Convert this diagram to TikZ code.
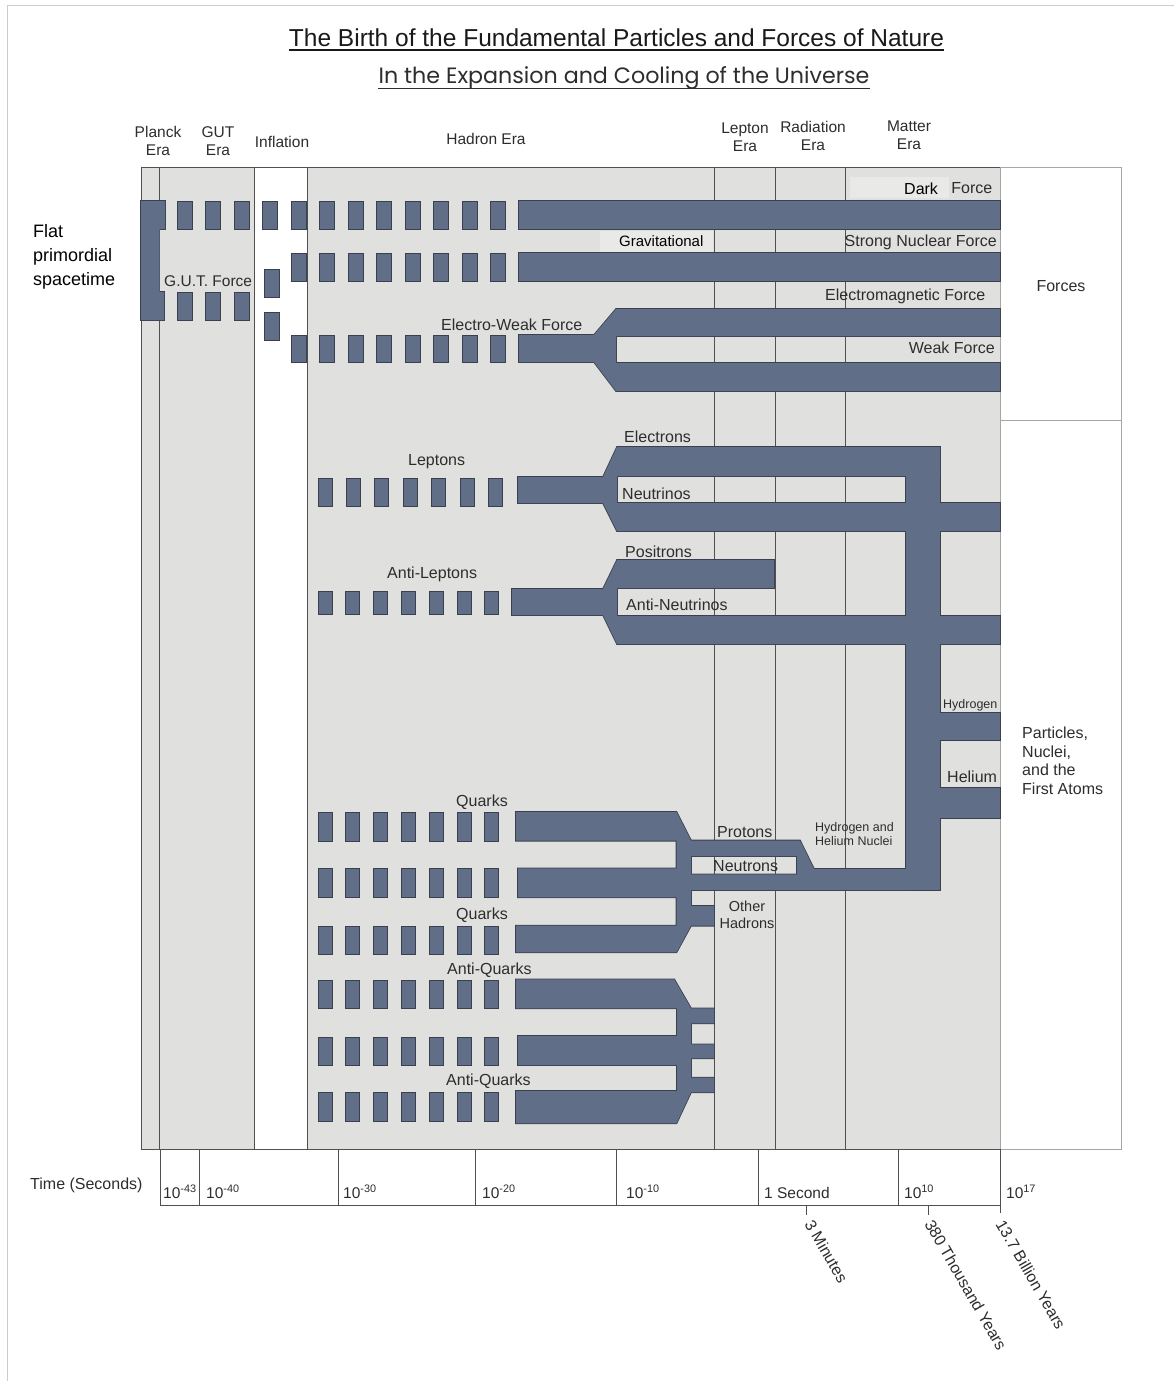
\documentclass[tikz,border=0pt]{standalone}
\usepackage{fontspec}
\setmainfont{Liberation Sans}
\newfontfamily\subtitlefont{Poppins}
\usetikzlibrary{positioning}

\definecolor{eragray}{RGB}{224,224,222}
\definecolor{taggray}{RGB}{233,233,231}
\definecolor{slate}{RGB}{96,110,135}
\definecolor{edgegray}{RGB}{58,64,78}
\definecolor{linegray}{RGB}{80,80,80}
\definecolor{labelgray}{RGB}{45,45,45}

\begin{document}
\begin{tikzpicture}[x=1pt, y=-1pt]
	\tikzset{
		every node/.style={font=\fontsize{16}{18}\selectfont, text=labelgray, inner sep=0pt},
		eralabel/.style={font=\fontsize{15.5}{18}\selectfont, align=center, anchor=north},
		small/.style={font=\fontsize{12.5}{14}\selectfont},
		eraline/.style={draw=linegray, line width=0.9pt},
		boxline/.style={draw=gray!70, line width=0.9pt},
		axis/.style={draw=linegray, line width=0.8pt},
		block/.style={fill=slate, draw=edgegray, line width=0.8pt},
		rim/.style={draw=edgegray, line width=1.6pt},
		band/.style={fill=slate},
		tag/.style={fill=taggray}
	}
	\useasboundingbox (0,0) rectangle (1174,1381);
	\draw[gray!40, line width=1pt] (7,1381) -- (7,6) -- (1174,6);

	% Title
	\node[font=\fontsize{24.5}{28}\selectfont, text=black!90, anchor=base] (title) at (616.5,46.5) {The Birth of the Fundamental Particles and Forces of Nature};
	\draw[black!90, line width=1.3pt] ([yshift=-3.5pt]title.base west) -- ([yshift=-3.5pt]title.base east);
	\node[font=\subtitlefont\fontsize{22.2}{26}\selectfont, anchor=base] (subtitle) at (624,84) {In the Expansion and Cooling of the Universe};
	\draw[labelgray, line width=0.9pt] ([yshift=-4pt]subtitle.base west) -- ([yshift=-4pt]subtitle.base east);

	% Eras
	\fill[eragray] (141,167) rectangle (254,1149);
	\fill[eragray] (307,167) rectangle (1000,1149);
	\draw[eraline] (141,167) rectangle (1000,1149);
	\foreach \x in {159,254,307,714,775,845}
		\draw[eraline] (\x,167) -- (\x,1149);
	\draw[boxline] (1000,167) rectangle (1121,1149);
	\draw[boxline] (1000,420) -- (1121,420);
	\fill[tag] (850,177) rectangle (949,198);
	\fill[tag] (600,231) rectangle (713,252);

	\node[eralabel] (planck) at (158,126) {Planck\\Era};
	\node[eralabel] (gutera) at (218,126) {GUT\\Era};
	\node[eralabel, anchor=center] (inflation) at (282,142) {Inflation};
	\node[eralabel, anchor=center] (hadron) at (486,139) {Hadron Era};
	\node[eralabel] (lepton) at (745,123) {Lepton\\Era};
	\node[eralabel] (radiation) at (813,121) {Radiation\\Era};
	\node[eralabel] (matter) at (909,121) {Matter\\Era};

	% Force rows
	\foreach \i in {0,...,11}
		\draw[block] (177+28.5*\i,201) rectangle ++(15,28);
	\foreach \i in {4,...,11}
		\draw[block] (177+28.5*\i,253) rectangle ++(15,28);
	\foreach \i in {0,1,2}
		\draw[block] (177+28.5*\i,292) rectangle ++(15,28);
	\foreach \i in {4,...,11}
		\draw[block] (177+28.5*\i,335) rectangle ++(15,27);
	\draw[block] (264,269) rectangle (279,297);
	\draw[block] (264,312) rectangle (279,340);

	% Particle rows
	\foreach \y/\h/\s in {478/28/28.4, 591/23/27.8, 812/29/27.8, 868/29/27.8, 926/28/27.8, 980/28/27.8, 1037/28/27.8, 1092/29/27.8}
		\foreach \i in {0,...,6}
			\draw[block] (318+\s*\i,\y) rectangle ++(14,\h);

	% Bands: outline first, then fill
	\foreach \pass in {rim,band}{
		\path[\pass] (141,201) -- (165,201) -- (165,229) -- (159.5,229) -- (159.5,292) -- (164,292) -- (164,320) -- (141,320) -- cycle;
		\path[\pass] (519,201) rectangle (1000,229);
		\path[\pass] (519,253) rectangle (1000,281);
		\path[\pass] (519,335) -- (594,335) -- (616,309) -- (1000,309) -- (1000,336) -- (616,336) -- (616,363) -- (1000,363)
			-- (1000,391) -- (616,391) -- (594,362) -- (519,362) -- cycle;
		% leptons
		\path[\pass] (518,477) -- (603,477) -- (617,447) -- (940,447) -- (940,476) -- (617,476) -- (617,503) -- (1000,503)
			-- (1000,531) -- (617,531) -- (603,503) -- (518,503) -- cycle;
		\path[\pass] (512,589) -- (603,589) -- (617,560) -- (774,560) -- (774,588) -- (617,588) -- (617,616) -- (1000,616)
			-- (1000,644) -- (617,644) -- (603,615) -- (512,615) -- cycle;
		% electrons into atoms
		\path[\pass] (906,447) rectangle (940,890);
		\path[\pass] (940,713) rectangle (1000,740);
		\path[\pass] (940,788) rectangle (1000,818);
		% quarks
		\path[\pass, even odd rule] (516,812) -- (676.5,812) -- (691,840.5) -- (800,840.5) -- (814,869) -- (910,869) -- (910,890)
			-- (691,890) -- (691,906) -- (714,906) -- (714,925.7) -- (691,925.7) -- (676.5,952.3) -- (516,952.3) -- (516,925.7)
			-- (676.5,925.7) -- (676.5,897.3) -- (518,897.3) -- (518,868.3) -- (676.5,868.3) -- (676.5,840.7) -- (516,840.7) -- cycle
			(691,856) rectangle (797,874.3);
		\path[\pass] (516,979.3) -- (674.2,979.3) -- (691,1008.3) -- (714,1008.3) -- (714,1023.3) -- (691,1023.3) -- (691,1044.3)
			-- (714,1044.3) -- (714,1058.3) -- (691,1058.3) -- (691,1077.7) -- (714,1077.7) -- (714,1092.3) -- (691,1092.3)
			-- (676.5,1123.3) -- (516,1123.3) -- (516,1091) -- (677,1091) -- (677,1065) -- (518,1065) -- (518,1036) -- (677,1036)
			-- (677,1008.3) -- (516,1008.3) -- cycle;
	}

	% Labels
	\node[anchor=north west, align=left, text=black, font=\fontsize{18}{24}\selectfont] (flat) at (33,224) {Flat\\primordial\\spacetime};
	\node[anchor=base west, font=\fontsize{15.5}{18}\selectfont] (gut) at (164,286.5) {G.U.T. Force};
	\node[anchor=base west, text=black] (dark) at (904,194) {Dark};
	\node[right=13pt of dark] (darkforce) {Force};
	\node[anchor=base west, text=black, font=\fontsize{15}{18}\selectfont] (gravity) at (619,246.5) {Gravitational};
	\node[anchor=base east] (strong) at (997,246.5) {Strong Nuclear Force};
	\node[anchor=base west] (em) at (825,300.5) {Electromagnetic Force};
	\node[anchor=base east] (weak) at (995,353.5) {Weak Force};
	\node[anchor=base west] (ew) at (441,330.5) {Electro-Weak Force};
	\node (forces) at (1061,286) {Forces};

	\node[anchor=base west] (electrons) at (624,442.5) {Electrons};
	\node[anchor=base west] (leptons) at (408,465.5) {Leptons};
	\node[anchor=base west] (neutrinos) at (622,499.5) {Neutrinos};
	\node[anchor=base west] (positrons) at (625,557) {Positrons};
	\node[anchor=base west] (antileptons) at (387,578.5) {Anti-Leptons};
	\node[anchor=base west] (antineutrinos) at (626,610.5) {Anti-Neutrinos};
	\node[small, anchor=base west] (hydrogen) at (943,708.5) {Hydrogen};
	\node[anchor=base west] (helium) at (947,782.5) {Helium};
	\node[anchor=north west, align=left, font=\fontsize{16}{18.5}\selectfont] (atoms) at (1022,727) {Particles,\\Nuclei,\\and the\\First Atoms};

	\node[anchor=base west] (quarks) at (456,806.5) {Quarks};
	\node[anchor=base west] (quarks2) at (456,919.5) {Quarks};
	\node[anchor=base west] (antiquarks) at (447,974.5) {Anti-Quarks};
	\node[anchor=base west] (antiquarks2) at (446,1085.5) {Anti-Quarks};
	\node[anchor=base west] (protons) at (717,837.5) {Protons};
	\node[anchor=base west] (neutrons) at (713,871.5) {Neutrons};
	\node[anchor=north, align=center, font=\fontsize{14.5}{17}\selectfont] (hadrons) at (747,901) {Other\\Hadrons};
	\node[small, anchor=north west, align=left] (nuclei) at (815,822) {Hydrogen and\\Helium Nuclei};

	% Time axis
	\draw[axis] (160,1149) -- (160,1205) -- (1000,1205);
	\foreach \x in {199,338,475,616,758.5,898.5,1000}
		\draw[axis] (\x,1149) -- (\x,1205);
	\draw[axis] (806,1205) -- (806,1215);
	\draw[axis] (928,1205) -- (928,1215);
	\draw[axis] (1000,1205) -- (1000,1213);
	\node[anchor=base west] (time) at (30,1189) {Time (Seconds)};
	\foreach \x/\t [count=\k] in {163/{10\textsuperscript{-43}}, 206/{10\textsuperscript{-40}}, 343/{10\textsuperscript{-30}}, 482/{10\textsuperscript{-20}}, 626/{10\textsuperscript{-10}}, 764/{1 Second}, 904/{10\textsuperscript{10}}, 1006/{10\textsuperscript{17}}}
		\node[anchor=base west, font=\fontsize{15.5}{18}\selectfont] (tick\k) at (\x,1198) {\t};
	\node[rotate=-60, anchor=west] (minutes) at (809,1221) {3 Minutes};
	\node[rotate=-60, anchor=west] (thousand) at (929,1221) {380 Thousand Years};
	\node[rotate=-60, anchor=west] (billion) at (1000,1221) {13.7 Billion Years};
\end{tikzpicture}
\end{document}
